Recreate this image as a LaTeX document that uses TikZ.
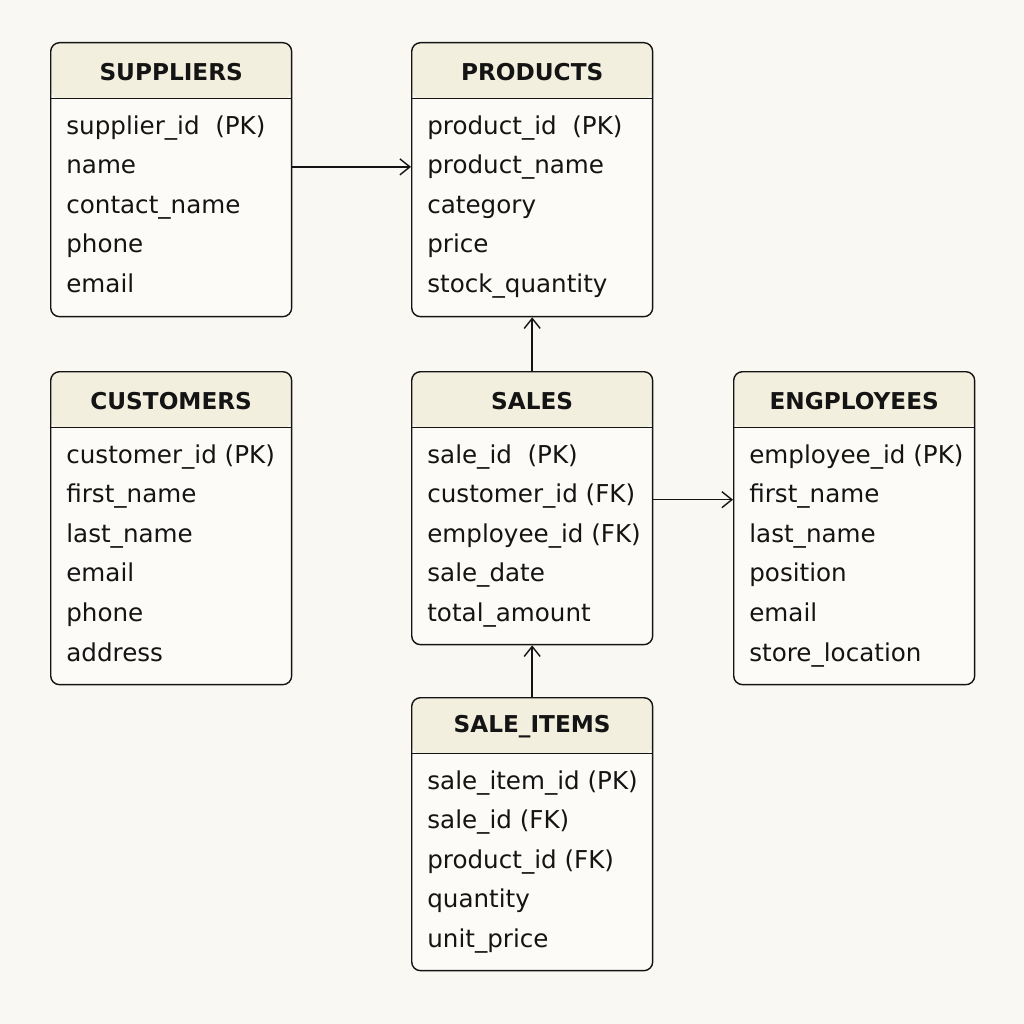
\documentclass[tikz,border=0pt]{standalone}
\usepackage{fontspec}
\setmainfont{DejaVu Sans}
\usetikzlibrary{arrows.meta}

\definecolor{paper}{HTML}{FAF8F3}
\definecolor{headfill}{HTML}{F3EFDF}
\definecolor{bodyfill}{HTML}{FCFBF7}
\definecolor{ink}{HTML}{141414}

\tikzset{
  table/.style={draw=ink, line width=0.8pt, rounded corners=5pt, fill=bodyfill,
    inner sep=0pt, minimum width=4.82cm, minimum height=#1, anchor=north west,
    path picture={
      \fill[headfill] (path picture bounding box.north west)
        rectangle ([yshift=-1.12cm]path picture bounding box.north east);
      \draw[ink, line width=0.8pt] ([yshift=-1.12cm]path picture bounding box.north west)
        -- ([yshift=-1.12cm]path picture bounding box.north east);}},
  title/.style={font=\bfseries\fontsize{13.2}{15}\selectfont, text=ink},
  field/.style={font=\fontsize{14}{16}\selectfont, text=ink, anchor=base west, inner sep=0pt},
  rel/.style={draw=ink, line width=0.8pt, -{Straight Barb[length=0.2cm, width=0.32cm]}},
}

\begin{document}
\begin{tikzpicture}[x=0.02cm, y=-0.02cm]
    \fill[paper] (0,0) rectangle (1024,1024);

    % Tables
    \node[table=5.48cm] (suppliers) at (50,42) {};
    \node[title] (suppliers-t) at ([yshift=-0.6cm]suppliers.north) {SUPPLIERS};
    \foreach \f [count=\i] in {supplier\_id\ \ (PK), name, contact\_name, phone, email}
        \node[field] (suppliers-\i) at (66, {134+39.6*(\i-1)}) {\f};

    \node[table=5.48cm] (products) at (411,42) {};
    \node[title] (products-t) at ([yshift=-0.6cm]products.north) {PRODUCTS};
    \foreach \f [count=\i] in {product\_id\ \ (PK), product\_name, category, price, stock\_quantity}
        \node[field] (products-\i) at (427, {134+39.6*(\i-1)}) {\f};

    \node[table=6.26cm] (customers) at (50,371) {};
    \node[title] (customers-t) at ([yshift=-0.6cm]customers.north) {CUSTOMERS};
    \foreach \f [count=\i] in {customer\_id (PK), first\_name, last\_name, email, phone, address}
        \node[field] (customers-\i) at (66, {463+39.6*(\i-1)}) {\f};

    \node[table=5.46cm] (sales) at (411,371) {};
    \node[title] (sales-t) at ([yshift=-0.6cm]sales.north) {SALES};
    \foreach \f [count=\i] in {sale\_id\ \ (PK), customer\_id (FK), employee\_id (FK), sale\_date, total\_amount}
        \node[field] (sales-\i) at (427, {463+39.6*(\i-1)}) {\f};

    \node[table=6.26cm] (employees) at (733,371) {};
    \node[title] (employees-t) at ([yshift=-0.6cm]employees.north) {ENGPLOYEES};
    \foreach \f [count=\i] in {employee\_id (PK), first\_name, last\_name, position, email, store\_location}
        \node[field] (employees-\i) at (749, {463+39.6*(\i-1)}) {\f};

    \node[table=5.46cm] (saleitems) at (411,697) {};
    \node[title] (saleitems-t) at ([yshift=-0.6cm]saleitems.north) {SALE\_ITEMS};
    \foreach \f [count=\i] in {sale\_item\_id (PK), sale\_id (FK), product\_id (FK), quantity, unit\_price}
        \node[field] (saleitems-\i) at (427, {789+39.6*(\i-1)}) {\f};

    % Relations
    \draw[rel] (suppliers-2.center -| suppliers.east) -- (suppliers-2.center -| products.west);
    \draw[rel] (sales.north) -- (products.south);
    \draw[rel] ([yshift=-0.07cm]sales-2.center -| sales.east) -- ([yshift=-0.07cm]sales-2.center -| employees.west);
    \draw[rel] (saleitems.north) -- (sales.south);
\end{tikzpicture}
\end{document}
